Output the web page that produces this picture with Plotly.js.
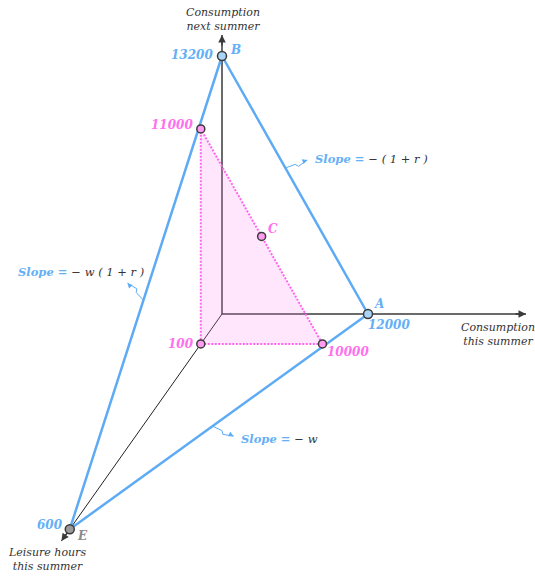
<!DOCTYPE html>
<html>
<head>
<meta charset="utf-8">
<script src="https://cdn.plot.ly/plotly-3.0.1.min.js"></script>
<style>
  html, body { margin:0; padding:0; background:#fff; }
  #chart { width:535px; height:576px; }
</style>
</head>
<body>
<div id="chart"></div>
<script>
/* Budget diagram: leisure / consumption now / consumption next, oblique view */

// corner points of the budget plane (leisure hours, consumption this summer, consumption next summer)
const budgetNames   = ['A', 'B', 'E'];
const budgetLeisure = [0, 0, 600];
const budgetThis    = [12000, 0, 0];
const budgetNext    = [0, 13200, 0];

// inner triangle at leisure = 100
const innerLabels  = ['100', '10000', '11000'];
const innerLeisure = [100, 100, 100];
const innerThis    = [0, 10000, 0];
const innerNext    = [0, 0, 11000];

// chosen point C
const pointC = { name:'C', leisure:100, now:5000, next:5500 };

const axisTitles = ['Consumption<br>this summer', 'Consumption<br>next summer', 'Leisure hours<br>this summer'];

const BLUE = '#5eabf5', BLUE_TXT = '#64b0f6', PINK = '#ff66ee', PINK_TXT = '#ff70ee', INK = '#3a3a3a';
const FONT = 'DejaVu Serif';

const X_RANGE = [-18247, 25726], Y_RANGE = [-13405, 16065];
const PX_X = 535 / (X_RANGE[1] - X_RANGE[0]), PX_Y = 576 / (Y_RANGE[1] - Y_RANGE[0]);

// oblique projection: leisure runs down-left (axis not to scale, mild power scale)
const KX = -11.0, KY = -9.68, LPOW = 1.1;
const proj = (L, a, b) => { const d = Math.pow(L, LPOW); return [a + d*KX, b + d*KY]; };
const AXIS_END = { now:24985, next:14275, leisure:630 };

function line(pts, extra) {
  return Object.assign({ type:'scatter', mode:'lines', x:pts.map(p=>p[0]), y:pts.map(p=>p[1]),
    hoverinfo:'skip' }, extra);
}
// move a data point by screen pixels (dy positive = down)
const nudge = (p, dx, dy) => [p[0] + dx/PX_X, p[1] - dy/PX_Y];

const O = proj(0,0,0);
const endNow = proj(0, AXIS_END.now, 0), endNext = proj(0, 0, AXIS_END.next), endL = proj(AXIS_END.leisure, 0, 0);
const budget = budgetNames.map((n,i)=>proj(budgetLeisure[i], budgetThis[i], budgetNext[i]));
const inner  = innerLabels.map((n,i)=>proj(innerLeisure[i], innerThis[i], innerNext[i]));
const C = proj(pointC.leisure, pointC.now, pointC.next);
const [A, B, E] = budget;

const lerp = (p, q, t) => [p[0]+(q[0]-p[0])*t, p[1]+(q[1]-p[1])*t];
const sAB = lerp(A, B, 0.566), sBE = lerp(B, E, 0.516), sAE = lerp(A, E, 0.521);

// little zig-zag leader from a budget line to its slope label
function hookPath(p, dx, dy) {
  const n = Math.hypot(dx, dy), px = -dy/n*3, py = dx/n*3;
  return [p, nudge(p, dx*0.45, dy*0.45), nudge(p, dx*0.55+px, dy*0.55+py), nudge(p, dx, dy)];
}
const hooks = [[sAB, 22, -8], [sBE, -16, -17], [sAE, 21, 10]];

const traces = [
  line([O, endNow],  { line:{color:INK, width:1.5} }),
  line([O, endNext], { line:{color:INK, width:1.5} }),
  line([O, endL],    { line:{color:'#222', width:1} }),
  line([...inner, inner[0]], { fill:'toself', fillcolor:'rgba(255,130,240,0.2)',
    line:{color:PINK, width:2, dash:'2px,1.5px'} }),
  line([A, B, E, A], { line:{color:BLUE, width:2.5} }),
  ...hooks.map(h => line(hookPath(...h), { line:{color:BLUE, width:1} })),
  { type:'scatter', mode:'markers', hoverinfo:'skip',
    x:[...inner.map(p=>p[0]), C[0]], y:[...inner.map(p=>p[1]), C[1]],
    marker:{ size:8, color:'#ff9cf2', line:{color:INK, width:1.5} } },
  { type:'scatter', mode:'markers', hoverinfo:'skip',
    x:budget.map(p=>p[0]), y:budget.map(p=>p[1]),
    marker:{ size:9, color:['#a9d3f7','#a9d3f7','#9a9a9a'], line:{color:INK, width:1.5} } },
];

const lbl = (p, text, color, xanchor, xs, ys) => ({
  x:p[0], y:p[1], text, showarrow:false, xanchor, yanchor:'middle', xshift:xs, yshift:ys,
  font:{ family:FONT, size:12, color, weight:'bold', style:'italic' } });

const head = (p, ax, ay, w, c) => ({ x:p[0], y:p[1], ax, ay, text:'', showarrow:true,
  arrowhead:2, arrowsize:1, arrowwidth:w || 1.5, arrowcolor:c || INK });

const slope = (p, text, xanchor, xs, ys) => ({ x:p[0], y:p[1], text, showarrow:false,
  xanchor, yanchor:'middle', xshift:xs, yshift:ys,
  font:{ family:FONT, size:11.5, color:BLUE_TXT, weight:'bold', style:'italic' } });
const rest = t => `<span style="color:#333;font-weight:normal">${t}</span>`;

const annotations = [
  head(endNow, -12, 0), head(endNext, 0, 12), head(endL, 7, -10),
  ...hooks.map(([p, dx, dy]) => { const n = Math.hypot(dx, dy);
    return head(nudge(p, dx, dy), -dx/n*5, -dy/n*5, 1, BLUE); }),
  { x:endNow[0], y:endNow[1], text:axisTitles[0], showarrow:false, xanchor:'center', yanchor:'top',
    xshift:-28, yshift:-5, font:{family:FONT, size:11, color:'#333', style:'italic'} },
  { x:endNext[0], y:endNext[1], text:axisTitles[1], showarrow:false, xanchor:'center', yanchor:'bottom',
    xshift:1, yshift:0, font:{family:FONT, size:11, color:'#333', style:'italic'} },
  { x:endL[0], y:endL[1], text:axisTitles[2], showarrow:false, xanchor:'center', yanchor:'top',
    xshift:-14, yshift:-3, font:{family:FONT, size:11, color:'#333', style:'italic'} },
  lbl(B, String(budgetNext[1]), BLUE_TXT, 'right', -7, 1),
  lbl(B, budgetNames[1], BLUE_TXT, 'left', 6, 6),
  lbl(A, String(budgetThis[0]), BLUE_TXT, 'left', -2, -11),
  lbl(A, budgetNames[0], BLUE_TXT, 'left', 4, 10),
  lbl(E, String(budgetLeisure[2]), BLUE_TXT, 'right', -5, 4),
  lbl(E, budgetNames[2], '#8a8a8a', 'left', 5, -7),
  lbl(inner[0], innerLabels[0], PINK_TXT, 'right', -5, 0),
  lbl(inner[1], innerLabels[1], PINK_TXT, 'left', 3, -8),
  lbl(inner[2], innerLabels[2], PINK_TXT, 'right', -6, 4),
  lbl(C, pointC.name, PINK_TXT, 'left', 4, 7),
  slope(sAB, '<b>Slope =</b> ' + rest('− ( 1 + r )'), 'left', 28, 9),
  slope(sBE, '<b>Slope =</b> ' + rest('− w ( 1 + r )'), 'right', 3, 28),
  slope(sAE, '<b>Slope =</b> ' + rest('− w'), 'left', 26, -13),
];

Plotly.newPlot('chart', traces, {
  width:535, height:576, margin:{l:0,r:0,t:0,b:0},
  paper_bgcolor:'#fff', plot_bgcolor:'#fff', showlegend:false, hovermode:false,
  xaxis:{ range:X_RANGE, visible:false, fixedrange:true },
  yaxis:{ range:Y_RANGE, visible:false, fixedrange:true },
  annotations,
}, {displayModeBar:false, staticPlot:true});
</script>
</body>
</html>
